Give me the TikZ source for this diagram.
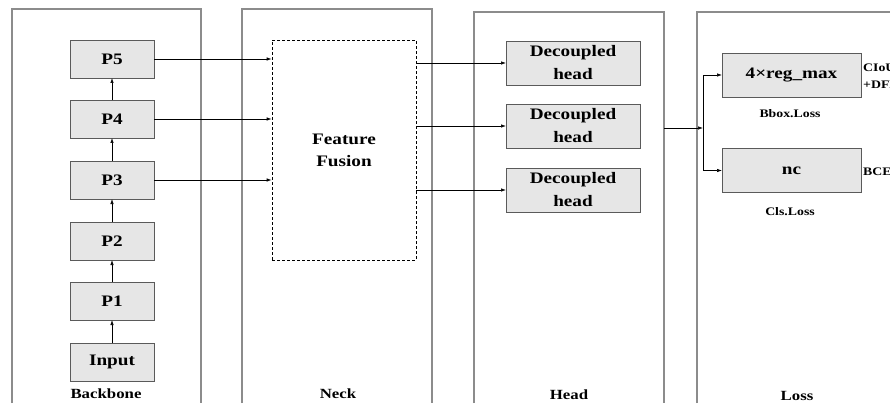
\documentclass[tikz,border=0pt]{standalone}
\usepackage{fontspec}
\setmainfont{Liberation Serif}[FakeStretch=1.2]
\usetikzlibrary{arrows.meta}
\definecolor{panelgray}{HTML}{8C8C8C}
\definecolor{boxfill}{HTML}{E6E6E6}
\definecolor{boxline}{HTML}{5A5A5A}
\tikzset{
  panelnode/.style={draw=none, inner sep=0pt, outer sep=0pt},
  panelline/.style={draw=panelgray, line width=1.5pt},
  box/.style={draw=boxline, fill=boxfill, line width=0.9pt, inner sep=0pt, outer sep=0pt,
    font=\bfseries\fontsize{16}{23}\selectfont, align=center},
  pbox/.style={box, minimum width=84pt, minimum height=38pt},
  hbox/.style={box, minimum width=134pt, minimum height=44pt},
  lbox/.style={box, minimum width=139pt, minimum height=44pt},
  arr/.style={-{Latex[length=5pt,width=3.5pt]}, line width=0.7pt, draw=black},
  plabel/.style={font=\bfseries\fontsize{14}{16}\selectfont, inner sep=0pt},
  slabel/.style={font=\bfseries\fontsize{11.5}{17}\selectfont, inner sep=0pt},
}
\begin{document}
\begin{tikzpicture}[x=1pt, y=-1pt]
\path[use as bounding box] (0,0) rectangle (890,406);
\fill[white] (0,0) rectangle (890,406);
\clip (0,0) rectangle (890,406);

% panels
\node[panelnode, minimum width=189pt, minimum height=394pt] (bp) at (106.5,206) {};
\node[panelnode, minimum width=190pt, minimum height=394pt] (np) at (337,206) {};
\node[panelnode, minimum width=190pt, minimum height=391pt] (hp) at (569,207.5) {};
\node[panelnode, minimum width=200pt, minimum height=391pt] (lp) at (797,207.5) {};
\foreach \p in {bp,np,hp,lp}{
  \draw[panelline] (\p.south west) -- (\p.north west) -- (\p.north east) -- (\p.south east);
}

% panel labels
\node[plabel] (lbb) at (106,394) {Backbone};
\node[plabel] (lnk) at (338,394) {Neck};
\node[plabel] (lhd) at (569,395) {Head};
\node[plabel] (lls) at (797,396) {Loss};

% backbone boxes
\node[pbox] (p5) at (112,59) {P5};
\node[pbox] (p4) at (112,119) {P4};
\node[pbox] (p3) at (112,180) {P3};
\node[pbox] (p2) at (112,241) {P2};
\node[pbox] (p1) at (112,301) {P1};
\node[pbox] (in) at (112,362) {Input};
\draw[arr] (in.north) -- (p1.south);
\draw[arr] (p1.north) -- (p2.south);
\draw[arr] (p2.north) -- (p3.south);
\draw[arr] (p3.north) -- (p4.south);
\draw[arr] (p4.north) -- (p5.south);

% feature fusion
\node[draw=black, dash pattern=on 3pt off 2pt, line width=0.7pt, minimum width=144pt, minimum height=220pt,
  inner sep=0pt, font=\bfseries\fontsize{16}{22}\selectfont, align=center] (ff) at (344,150) {Feature\\Fusion};
\draw[arr] (p5.east) -- (p5.east -| ff.west);
\draw[arr] (p4.east) -- (p4.east -| ff.west);
\draw[arr] (p3.east) -- (p3.east -| ff.west);

% decoupled heads
\node[hbox] (h1) at (573,63) {Decoupled\\head};
\node[hbox] (h2) at (573,126) {Decoupled\\head};
\node[hbox] (h3) at (573,190) {Decoupled\\head};
\draw[arr] (h1.west -| ff.east) -- (h1.west);
\draw[arr] (h2.west -| ff.east) -- (h2.west);
\draw[arr] (h3.west -| ff.east) -- (h3.west);

% loss
\coordinate (j) at (703,128);
\node[lbox] (lb1) at (791.5,75) {4×reg\_max};
\node[lbox] (lb2) at (791.5,170.5) {nc};
\draw[arr] (hp.east |- j) -- (j);
\draw[arr] (j) |- (lb1.west);
\draw[arr] (j) |- (lb2.west);
\node[slabel] (bbl) at (790,114) {Bbox.Loss};
\node[slabel] (cll) at (790,212) {Cls.Loss};
\node[slabel, anchor=west, align=left] (ciou) at (863,76) {CIoU\\+DFL};
\node[slabel, anchor=west] (bce) at (863,172) {BCE};
\end{tikzpicture}
\end{document}
